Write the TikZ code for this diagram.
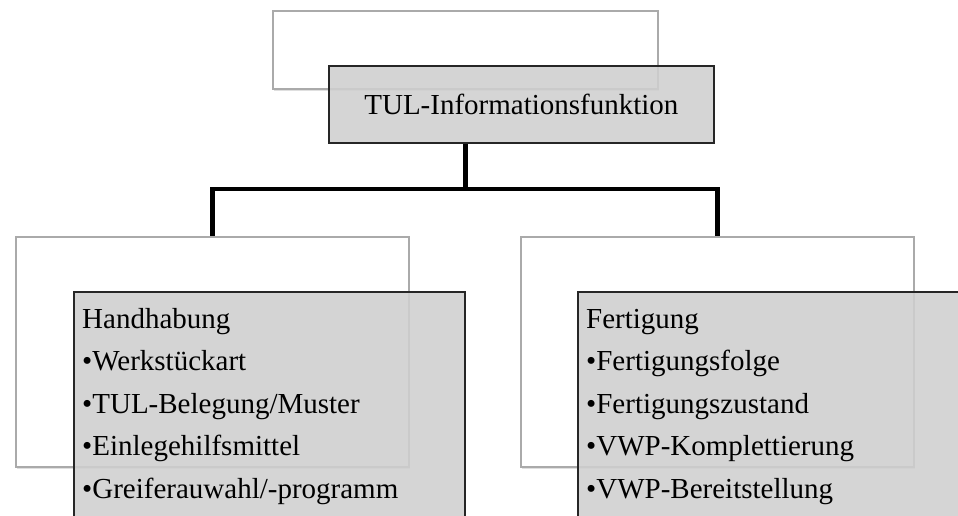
\documentclass[tikz,border=0pt]{standalone}
\usepackage{fontspec}
\setmainfont{Liberation Serif}
\usetikzlibrary{shadows}
\definecolor{panelgray}{RGB}{207,207,207}
\definecolor{framegray}{RGB}{170,170,170}
\begin{document}
\begin{tikzpicture}[x=1pt,y=-1pt,
  backbox/.style={draw=framegray, line width=1.6pt, fill=white, anchor=north west,
    inner sep=0pt, drop shadow={opacity=0.25, shadow xshift=1.5pt, shadow yshift=-2pt}},
  frontbox/.style={draw=black!85, line width=1.8pt, fill=panelgray, fill opacity=0.88,
    text opacity=1, anchor=north west, inner sep=0pt},
  link/.style={line width=4.6pt, draw=black},
  boxfont/.style={font=\fontsize{29}{42.5}\selectfont},
  listtext/.style={boxfont, align=left, anchor=base west, inner sep=0pt}
]
\useasboundingbox (0,0) rectangle (958,516);
\clip (0,0) rectangle (958,516);

% back (white) panels
\node[backbox, minimum width=385pt, minimum height=78pt] (topw) at (272,10) {};
\node[backbox, minimum width=393pt, minimum height=230pt] (lw) at (15,236) {};
\node[backbox, minimum width=393pt, minimum height=230pt] (rw) at (520,236) {};

% front (grey) panels
\node[frontbox, boxfont, minimum width=385pt, minimum height=77pt] (tul) at (328,65) {TUL-Informationsfunktion};
\node[frontbox, minimum width=391pt, minimum height=260pt] (lg) at (73,291) {};
\node[frontbox, minimum width=420pt, minimum height=260pt] (rg) at (577,291) {};

% tree connectors
\coordinate (bar) at (465,189);
\draw[link] (topw.south |- tul.south) -- (topw.south |- bar) -| (lw.north);
\draw[link] (topw.south |- bar) -| (rw.north);

% panel contents (anchored on the baseline of the last line)
\node[listtext] (hlist) at (82,498) {Handhabung\\•Werkstückart\\•TUL-Belegung/Muster\\•Einlegehilfsmittel\\•Greiferauwahl/-programm};
\node[listtext] (flist) at (586,498) {Fertigung\\•Fertigungsfolge\\•Fertigungszustand\\•VWP-Komplettierung\\•VWP-Bereitstellung};
\end{tikzpicture}
\end{document}
